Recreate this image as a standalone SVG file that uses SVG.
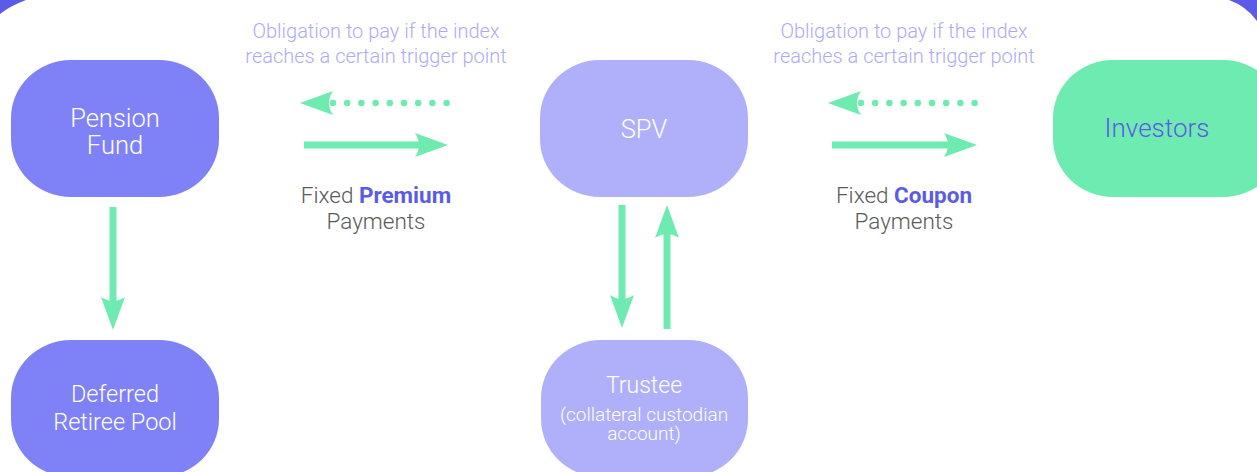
<svg xmlns="http://www.w3.org/2000/svg" width="1257" height="472" viewBox="0 0 1257 472">
  <defs>
    <style>
      text { font-family: Roboto, "Liberation Sans", sans-serif; text-anchor: middle; font-weight: 300; }
      .node-dark { fill: #7f82f6; }
      .node-light { fill: #b0b0fa; }
      .node-green { fill: #6eebb0; }
      .label-w { fill: #ffffff; }
      .note { fill: #acacf5; font-size: 20px; }
      .pay { fill: #5a5a5a; font-size: 22.5px; }
      .em { fill: #5b5be6; font-weight: bold; }
      .shaft { stroke: #6eebb0; stroke-width: 7; fill: none; }
      .dots { stroke: #6eebb0; stroke-width: 6.5; stroke-linecap: round; stroke-dasharray: 0 14.2; fill: none; }
      .head { fill: #6eebb0; }
    </style>
  </defs>

  <rect width="1257" height="472" fill="#ffffff"/>

  <!-- frame corners -->
  <path d="M0,0 L26,0 Q10,6 0,14 Z" fill="#5b5be6"/>
  <path d="M1229,0 L1257,0 L1257,21 Q1246,6 1229,0 Z" fill="#5b5be6"/>

  <!-- connectors -->
  <g id="connectors">
    <!-- Pension Fund <-> SPV -->
    <path class="dots" d="M333,103 L447,103"/>
    <path class="head" d="M300,103 L333,91 Q325,103 333,115 Z"/>
    <path class="shaft" d="M304,145 L424,145"/>
    <path class="head" d="M448,145 L415,133 Q423,145 415,157 Z"/>

    <!-- SPV <-> Investors -->
    <path class="dots" d="M861,103 L976,103"/>
    <path class="head" d="M828,103 L861,91 Q853,103 861,115 Z"/>
    <path class="shaft" d="M832,145 L953,145"/>
    <path class="head" d="M977,145 L944,133 Q952,145 944,157 Z"/>

    <!-- Pension Fund -> Deferred Retiree Pool -->
    <path class="shaft" d="M113,207 L113,305"/>
    <path class="head" d="M113,330 L101,297 Q113,305 125,297 Z"/>

    <!-- SPV <-> Trustee -->
    <path class="shaft" d="M622,205 L622,303"/>
    <path class="head" d="M622,328 L610,295 Q622,303 634,295 Z"/>
    <path class="shaft" d="M667,329 L667,230"/>
    <path class="head" d="M667,205 L655,238 Q667,230 679,238 Z"/>
  </g>

  <!-- flow notes -->
  <g id="note-left">
    <text class="note" x="376" y="38">Obligation to pay if the index</text>
    <text class="note" x="376" y="63">reaches a certain trigger point</text>
    <text class="pay" x="376" y="203">Fixed <tspan class="em">Premium</tspan></text>
    <text class="pay" x="376" y="229">Payments</text>
  </g>
  <g id="note-right">
    <text class="note" x="904" y="38">Obligation to pay if the index</text>
    <text class="note" x="904" y="63">reaches a certain trigger point</text>
    <text class="pay" x="904" y="203">Fixed <tspan class="em">Coupon</tspan></text>
    <text class="pay" x="904" y="229">Payments</text>
  </g>

  <!-- nodes -->
  <g id="pension-fund">
    <rect class="node-dark" x="11" y="60" width="208" height="137" rx="60" ry="58"/>
    <text class="label-w" x="115" y="127" font-size="25.5">Pension</text>
    <text class="label-w" x="115" y="154" font-size="25.5">Fund</text>
  </g>

  <g id="deferred-retiree-pool">
    <rect class="node-dark" x="11" y="340" width="208" height="137" rx="60" ry="58"/>
    <text class="label-w" x="115" y="402" font-size="23.5">Deferred</text>
    <text class="label-w" x="115" y="430" font-size="23.5">Retiree Pool</text>
  </g>

  <g id="spv">
    <rect class="node-light" x="540" y="60" width="208" height="137" rx="60" ry="58"/>
    <text class="label-w" x="644" y="138" font-size="25.5">SPV</text>
  </g>

  <g id="trustee">
    <rect class="node-light" x="541" y="340" width="207" height="137" rx="60" ry="58"/>
    <text class="label-w" x="644" y="393" font-size="23">Trustee</text>
    <text class="label-w" x="644" y="421" font-size="19">(collateral custodian</text>
    <text class="label-w" x="644" y="440" font-size="19">account)</text>
  </g>

  <g id="investors">
    <rect class="node-green" x="1053" y="60" width="230" height="137" rx="60" ry="58"/>
    <text x="1157" y="137" font-size="26" fill="#5b5be6">Investors</text>
  </g>
</svg>
